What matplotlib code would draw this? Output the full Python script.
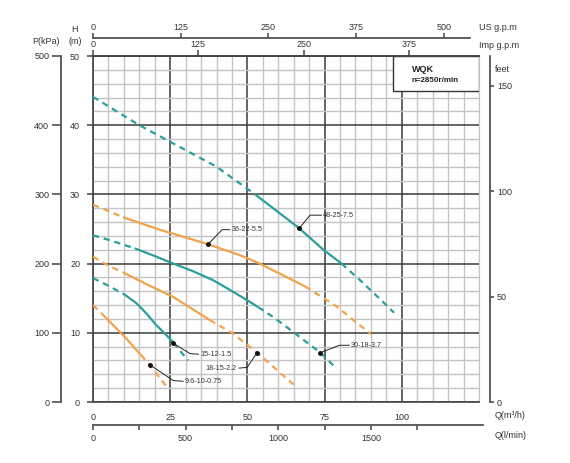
#!/usr/bin/env python
"""
WQK pump performance curves (n=2850 r/min) with the usual multi-unit axes.
"""

import matplotlib
matplotlib.use("Agg")
import matplotlib.pyplot as plt
from matplotlib.patches import Rectangle

plt.rcParams["font.family"] = ["Liberation Sans", "DejaVu Sans"]

# flow Q (m3/h) and head H (m), one pair per pump model
q_48 = [0, 15, 25, 40, 52.5, 66.8, 74.6, 80.5, 86.5, 95, 97.5]
h_48 = [44.1, 40.0, 37.6, 34.0, 30.0, 25.1, 22.0, 20.0, 17.6, 14.0, 12.9]
q_36 = [0, 5, 9.7, 21.6, 37.3, 47.7, 54, 68.7, 78.9, 90]
h_36 = [28.5, 27.6, 26.7, 24.9, 22.8, 21.2, 20.0, 16.7, 13.8, 9.8]
q_30 = [0, 6, 13.5, 19.4, 26, 32.4, 38.9, 45.3, 50.7, 53.5, 58.3, 64, 73.7, 78.5]
h_30 = [24.1, 23.3, 22.2, 21.2, 20.0, 18.9, 17.6, 15.95, 14.5, 13.7, 12.3, 10.4, 7.1, 5.0]
q_18 = [0, 5, 10.3, 17, 25.9, 37.8, 45.3, 53.2, 65]
h_18 = [21.0, 19.7, 18.6, 17.1, 15.2, 11.85, 9.9, 7.1, 2.5]
q_15 = [0, 5, 10.3, 14, 17.3, 20.5, 23.7, 26, 30.8]
h_15 = [17.9, 16.8, 15.5, 14.3, 12.8, 11.1, 9.7, 8.6, 6.0]
q_96 = [0, 3, 10.3, 15.5, 18.5, 24.2]
h_96 = [14.0, 12.7, 9.4, 6.8, 5.3, 2.0]

models = ["48-25-7.5", "36-22-5.5", "30-18-3.7", "18-15-2.2", "15-12-1.5", "9.6-10-0.75"]
flows = [q_48, q_36, q_30, q_18, q_15, q_96]
heads = [h_48, h_36, h_30, h_18, h_15, h_96]
# recommended (solid) working range of each pump, m3/h
solid_ranges = [(52.5, 80.5), (9.7, 68.7), (13.5, 53.5), (10.3, 37.8), (10.3, 26), (3, 15.5)]
# point on each curve that the label points at
label_points = [(66.8, 25.1), (37.3, 22.8), (73.5, 7.1), (53.1, 7.1), (25.9, 8.5), (18.5, 5.35)]

# axis ticks
h_ticks = [0, 10, 20, 30, 40, 50]
p_ticks = [0, 100, 200, 300, 400, 500]
feet_ticks = [0, 50, 100, 150]
q_ticks = [0, 25, 50, 75, 100]
us_ticks = [0, 125, 250, 375, 500]
imp_ticks = [0, 125, 250, 375]
lmin_ticks = [0, 250, 500, 750, 1000, 1250, 1500, 1750]
lmin_labels = ["0", "", "500", "", "1000", "", "1500", ""]

M3H_TO_USGPM = 4.40287
M3H_TO_IMPGPM = 3.66615
M3H_TO_LMIN = 16.6667
M_TO_FEET = 3.28084

TEAL = "#2b9f9b"
ORANGE = "#f2a24c"
TXT = "#333333"
SPINE = "#444444"

# leader bends / text anchors for the labels (data units)
leaders = [((70.3, 27.0), (74.0, 27.0), "left"),
           ((41.8, 24.9), (44.3, 24.9), "left"),
           ((79.8, 8.2), (83.0, 8.2), "left"),
           ((49.9, 5.0), (47.3, 4.9), "right"),
           ((31.4, 7.0), (34.1, 6.9), "left"),
           ((26.0, 3.1), (29.2, 3.0), "left")]


def plotcurve(ax, q, h, solid, color):
    """
    Draws one pump curve, dashed outside its solid working range
    """
    lo, hi = solid
    pts = list(zip(q, h))
    segs = [([p for p in pts if p[0] <= lo], True),
            ([p for p in pts if lo <= p[0] <= hi], False),
            ([p for p in pts if p[0] >= hi], True)]
    for seg, dashed in segs:
        if len(seg) < 2:
            continue
        xs, ys = zip(*seg)
        if dashed:
            ax.plot(xs, ys, color=color, lw=1.6, ls="--", dashes=(2.8, 2.2), zorder=3)
        else:
            ax.plot(xs, ys, color=color, lw=1.6, solid_capstyle="butt",
                    solid_joinstyle="round", zorder=3)


def onlyspine(ax, keep):
    for name, sp in ax.spines.items():
        sp.set_visible(name == keep)
    ax.spines[keep].set_color(SPINE)
    ax.spines[keep].set_linewidth(1.2)


fig = plt.figure(figsize=(5.7, 4.63), dpi=100)
ax = fig.add_axes([93 / 570, 61 / 463, 386 / 570, 346 / 463])
ax.set_xlim(0, 125)
ax.set_ylim(0, 50)

# grid
ax.set_xticks(q_ticks)
ax.set_xticks([x for x in range(0, 126, 5) if x % 25 != 0 or x == 125], minor=True)
ax.set_yticks(h_ticks)
ax.set_yticks([y for y in range(0, 51, 2) if y % 10 != 0], minor=True)
ax.grid(which="minor", color="#c4c4c4", lw=1.0, zorder=0)
ax.grid(which="major", color="#3a3a3a", lw=1.1, zorder=1)
ax.tick_params(which="minor", length=0)
ax.tick_params(axis="x", which="major", length=0, pad=8, labelsize=6.5, labelcolor=TXT)
ax.tick_params(axis="y", which="major", length=4.3, width=1.1, color=SPINE, pad=5,
               labelsize=6.5, labelcolor=TXT)
for name in ["left", "bottom", "top"]:
    ax.spines[name].set_color(SPINE)
    ax.spines[name].set_linewidth(1.2)
ax.spines["right"].set_color("#c4c4c4")

for q, h, solid, name in zip(flows, heads, solid_ranges, models):
    color = TEAL if name in ("48-25-7.5", "30-18-3.7", "15-12-1.5") else ORANGE
    plotcurve(ax, q, h, solid, color)

for (px, py), (bend, end, ha), name in zip(label_points, leaders, models):
    ax.plot([px, bend[0], end[0]], [py, bend[1], end[1]], color="#222222", lw=0.7, zorder=4)
    ax.plot(px, py, "o", color="#111111", ms=2.5, zorder=5)
    tx = end[0] + 0.6 if ha == "left" else end[0] - 0.8
    ax.text(tx, end[1], name, ha=ha, va="center", fontsize=5.2, color=TXT, zorder=5)

# model box
ax.add_patch(Rectangle((97.2, 44.9), 27.8, 5.1, facecolor="white", edgecolor="#333333",
                       lw=1.0, zorder=6))
ax.text(103.3, 48.1, "WQK", fontsize=6.5, fontweight="bold", color="#222222",
        va="center", zorder=7)
ax.text(103.3, 46.5, "n=2850r/min", fontsize=5.8, fontweight="bold", color="#222222",
        va="center", zorder=7)

# pressure axis (kPa)
axp = ax.twinx()
onlyspine(axp, "left")
axp.spines["left"].set_position(("outward", 23))
axp.yaxis.set_ticks_position("left")
axp.yaxis.set_label_position("left")
axp.set_ylim(0, 500)
axp.set_yticks(p_ticks)
axp.tick_params(axis="y", length=6.5, width=1.1, color=SPINE, pad=2, labelsize=6.5,
                labelcolor=TXT)

# feet axis
axf = ax.twinx()
onlyspine(axf, "right")
axf.spines["right"].set_position(("outward", 8))
axf.set_ylim(0, 50 * M_TO_FEET)
axf.set_yticks(feet_ticks)
axf.tick_params(axis="y", length=3, width=1.1, color=SPINE, pad=2, labelsize=6.5,
                labelcolor=TXT)

# Imp g.p.m on the top spine
axi = ax.twiny()
onlyspine(axi, "top")
axi.set_xlim(0, 125 * M3H_TO_IMPGPM)
axi.set_xticks(imp_ticks)
axi.tick_params(axis="x", length=4.3, width=1.1, color=SPINE, pad=1, labelsize=6.5,
                labelcolor=TXT)

# US g.p.m above it
axu = ax.twiny()
onlyspine(axu, "top")
axu.spines["top"].set_position(("outward", 13))
axu.set_xlim(0, 125 * M3H_TO_USGPM)
axu.spines["top"].set_bounds(0, 122 * M3H_TO_USGPM)
axu.set_xticks(us_ticks)
axu.tick_params(axis="x", length=3.6, width=1.1, color=SPINE, pad=1, labelsize=6.5,
                labelcolor=TXT)

# l/min below the plot
axl = ax.twiny()
onlyspine(axl, "bottom")
axl.xaxis.set_ticks_position("bottom")
axl.spines["bottom"].set_position(("outward", 16.6))
axl.set_xlim(0, 125 * M3H_TO_LMIN)
axl.spines["bottom"].set_bounds(0, 126.3 * M3H_TO_LMIN)
axl.set_xticks(lmin_ticks)
axl.set_xticklabels(lmin_labels)
axl.tick_params(axis="x", length=3.6, width=1.1, color=SPINE, pad=3, labelsize=6.5,
                labelcolor=TXT)

# unit labels
W, H = 570.0, 463.0
def figtext(x, y, s, ha="left"):
    fig.text(x / W, 1 - y / H, s, ha=ha, va="center", fontsize=6.5, color=TXT)

figtext(46, 42, "P(kPa)", "center")
figtext(75, 30, "H", "center")
figtext(75, 42, "(m)", "center")
figtext(479, 28, "US g.p.m")
figtext(479, 45, "Imp g.p.m")
figtext(495, 69, "feet")
figtext(495, 415, "Q(m³/h)")
figtext(495, 436, "Q(l/min)")

fig.savefig("out.png", dpi=100)
